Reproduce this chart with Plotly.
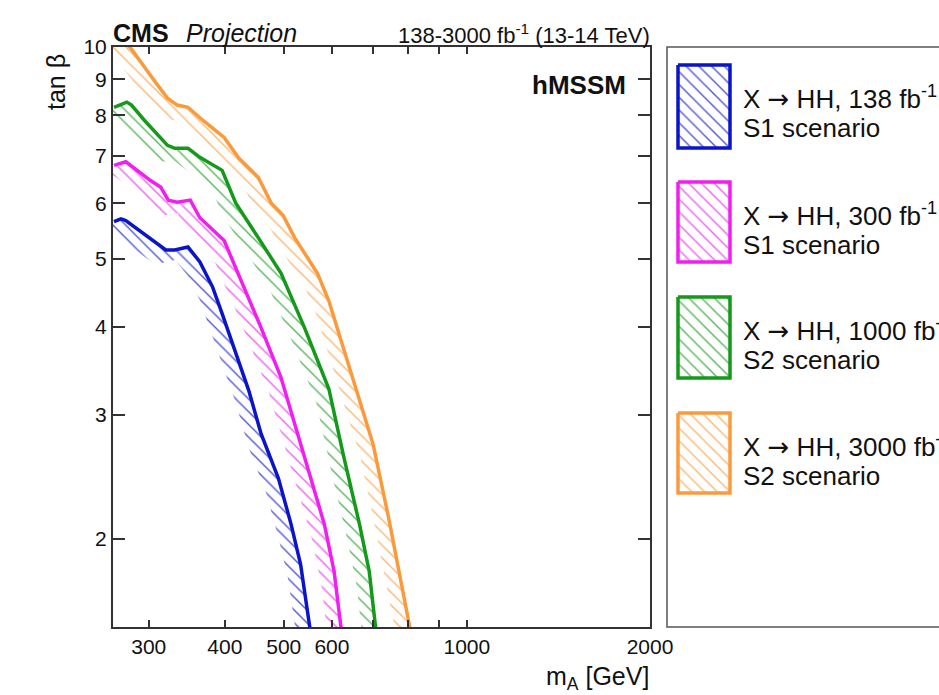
import numpy as np
import plotly.graph_objects as go

# Exclusion contours (m_A in GeV, tan beta)
blue_m = [263, 270, 275, 320, 331, 348, 364, 382, 396, 419, 438, 459, 490, 514, 533, 553]
blue_tb = [5.65, 5.70, 5.67, 5.15, 5.15, 5.20, 4.95, 4.56, 4.18, 3.62, 3.25, 2.82, 2.44, 2.10, 1.84, 1.48]

pink_m = [263, 275, 302, 314, 323, 334, 351, 364, 399, 419, 433, 459, 495, 533, 583, 605, 622]
pink_tb = [6.79, 6.87, 6.46, 6.32, 6.06, 6.02, 6.06, 5.72, 5.31, 4.80, 4.51, 3.99, 3.39, 2.73, 2.10, 1.80, 1.48]

green_m = [263, 276, 281, 295, 322, 331, 348, 364, 396, 417, 454, 495, 541, 593, 628, 666, 691, 709]
green_tb = [8.21, 8.35, 8.27, 7.87, 7.25, 7.18, 7.18, 6.97, 6.68, 6.00, 5.36, 4.77, 3.99, 3.27, 2.61, 2.10, 1.80, 1.48]

orange_m = [263, 281, 306, 322, 334, 348, 368, 399, 422, 454, 477, 499, 521, 568, 593, 641, 701, 744, 808]
orange_tb = [10.6, 9.93, 8.97, 8.46, 8.27, 8.21, 7.87, 7.44, 6.95, 6.53, 6.00, 5.76, 5.36, 4.77, 4.36, 3.50, 2.73, 2.14, 1.48]

lumis = ["138", "300", "1000", "3000"]
scenarios = ["S1", "S1", "S2", "S2"]
colors = ["#0a14c8", "#f01ef0", "#15991b", "#fb9a3c"]

x_ticks = [300, 400, 500, 600, 700, 800, 900, 1000, 2000]
x_ticktext = ["300", "400", "500", "600", "", "", "", "1000", "2000"]
y_ticks = [2, 3, 4, 5, 6, 7, 8, 9, 10]

FONT = "Liberation Sans, Arial, Helvetica, sans-serif"
W, H = 939, 695
L, R, T, B = 113, 0, 47, 68
PW, PH = W - L - R, H - T - B


def px(x):
    return (x - L) / PW


def py(y):
    return (H - B - y) / PH


def rgba(hex_color, a):
    h = hex_color.lstrip("#")
    return "rgba(%d,%d,%d,%.2f)" % (int(h[0:2], 16), int(h[2:4], 16), int(h[4:6], 16), a)


def hatch(c):
    return dict(shape="\\", fgcolor=rgba(c, 0.7), bgcolor="rgba(0,0,0,0)",
                size=9, solidity=0.16, fillmode="replace")


fig = go.Figure()

# hatched band on the excluded (lower-left) side of each contour
fx, fy = 0.953, 0.958
curves = [(blue_m, blue_tb), (pink_m, pink_tb), (green_m, green_tb), (orange_m, orange_tb)]
for (m, tb), c in zip(curves, colors):
    m = np.array(m, float)
    tb = np.array(tb, float)
    bx = np.concatenate([m, (m * fx)[::-1]])
    by = np.concatenate([tb, (tb * fy)[::-1]])
    fig.add_trace(go.Scatter(x=bx, y=by, mode="lines", line=dict(width=0),
                             fill="toself", fillcolor="rgba(0,0,0,0)", fillpattern=hatch(c),
                             hoverinfo="skip", showlegend=False))
for (m, tb), c in zip(curves, colors):
    fig.add_trace(go.Scatter(x=m, y=tb, mode="lines", line=dict(color=c, width=3.5),
                             showlegend=False))

# hand-made legend on a second (hidden) subplot
arrow = '<span style="font-family:DejaVu Sans">\u2192</span>'
box_tops = [18, 135, 250, 366]
box_h = [83, 80, 81, 80]
for top, h, c, lumi, sc in zip(box_tops, box_h, colors, lumis, scenarios):
    fig.add_trace(go.Scatter(x=[11, 63, 63, 11, 11], y=[top, top, top + h, top + h, top],
                             xaxis="x2", yaxis="y2", mode="lines",
                             line=dict(color=c, width=3.5), fill="toself",
                             fillcolor="rgba(0,0,0,0)", fillpattern=hatch(c),
                             hoverinfo="skip", showlegend=False))
    fig.add_annotation(x=74, y=top + 32, xref="x2", yref="y2", xanchor="left", yanchor="middle",
                       text="X %s HH, %s fb<sup>-1</sup>" % (arrow, lumi), showarrow=False,
                       font=dict(family=FONT, size=26, color="#111"))
    fig.add_annotation(x=74, y=top + 63, xref="x2", yref="y2", xanchor="left", yanchor="middle",
                       text="%s scenario" % sc, showarrow=False,
                       font=dict(family=FONT, size=26, color="#111"))

fig.add_shape(type="rect", xref="paper", yref="paper", x0=px(667), x1=px(960), y0=0, y1=1,
              line=dict(color="#555", width=1.5))

# header texts
fig.add_annotation(x=px(111), y=py(33), xref="paper", yref="paper", xanchor="left", yanchor="middle",
                   text="<b>CMS</b>", showarrow=False, font=dict(family=FONT, size=25, color="#111"))
fig.add_annotation(x=px(184), y=py(33), xref="paper", yref="paper", xanchor="left", yanchor="middle",
                   text="<i>Projection</i>", showarrow=False, font=dict(family=FONT, size=25, color="#111"))
fig.add_annotation(x=px(652), y=py(34), xref="paper", yref="paper", xanchor="right", yanchor="middle",
                   text="138-3000 fb<sup>-1</sup> (13-14 TeV)", showarrow=False,
                   font=dict(family=FONT, size=22, color="#111"))
fig.add_annotation(x=px(628), y=py(85), xref="paper", yref="paper", xanchor="right", yanchor="middle",
                   text="<b>hMSSM</b>", showarrow=False, font=dict(family=FONT, size=26, color="#111"))
fig.add_annotation(x=px(651), y=py(678), xref="paper", yref="paper", xanchor="right", yanchor="middle",
                   text="m<sub>A</sub> [GeV]", showarrow=False, font=dict(family=FONT, size=25, color="#111"))
fig.add_annotation(x=px(56), y=py(52), xref="paper", yref="paper", xanchor="center", yanchor="top",
                   text="tan \u03b2", textangle=-90, showarrow=False,
                   font=dict(family=FONT, size=25, color="#111"))

axis_common = dict(type="log", showgrid=False, zeroline=False, showline=True, linecolor="#333",
                   linewidth=2, mirror="allticks", ticks="inside", tickcolor="#333", tickwidth=1.5,
                   automargin=False, tickfont=dict(family=FONT, size=21, color="#111"))

fig.update_layout(
    width=W, height=H,
    margin=dict(l=L, r=R, t=T, b=B, autoexpand=False),
    paper_bgcolor="white", plot_bgcolor="white",
    showlegend=False,
    xaxis=dict(axis_common, domain=[0, px(650)], range=[np.log10(262), np.log10(2000)],
               tickmode="array", tickvals=x_ticks, ticktext=x_ticktext, ticklen=7),
    yaxis=dict(axis_common, range=[np.log10(1.5), 1], tickmode="array", tickvals=y_ticks,
               ticktext=[str(v) for v in y_ticks], ticklen=12),
    xaxis2=dict(domain=[px(667), 1], range=[0, W - 667], visible=False, anchor="y2", automargin=False),
    yaxis2=dict(domain=[0, 1], range=[PH, 0], visible=False, anchor="x2", automargin=False),
)

# drop the default page margin so the figure sits at the window's corner
fig.write_html("out.html", config={"displayModeBar": False},
               post_script="document.body.style.margin='0';")
